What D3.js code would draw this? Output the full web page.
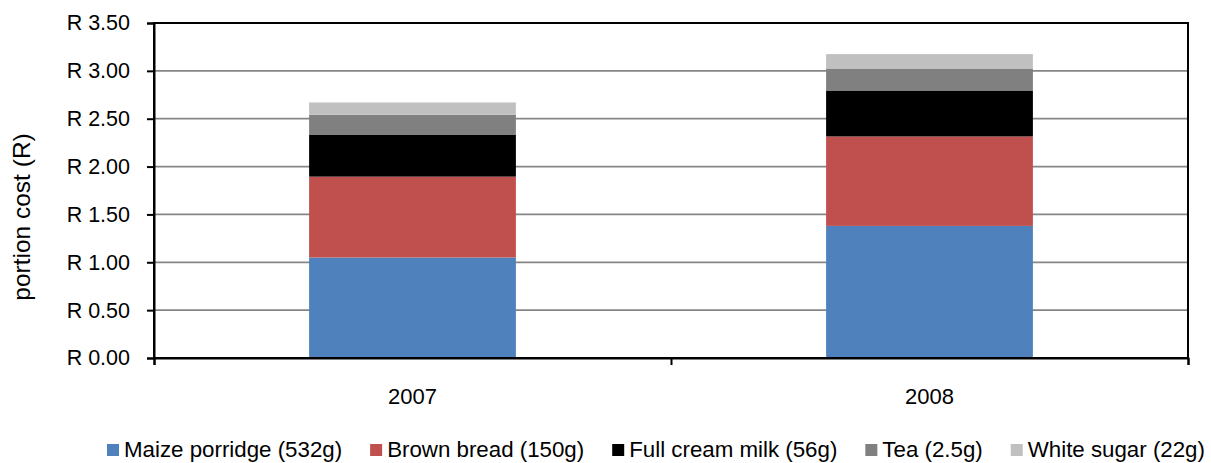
<!DOCTYPE html>
<html>
<head>
<meta charset="utf-8">
<script src="https://cdn.jsdelivr.net/npm/d3@7"></script>
<style>
  body { margin: 0; background: #fff; }
  text { font-family: "Liberation Sans", Arial, sans-serif; fill: #000; }
</style>
</head>
<body>
<div id="chart"></div>
<script>
// values
const years = ["2007", "2008"];
const items = ["Maize porridge (532g)", "Brown bread (150g)", "Full cream milk (56g)", "Tea (2.5g)", "White sugar (22g)"];
const maize = [1.05, 1.38];
const bread = [0.845, 0.935];
const milk = [0.435, 0.48];
const tea = [0.21, 0.23];
const sugar = [0.13, 0.15];
const colours = ["#4f81bd", "#c0504d", "#000000", "#808080", "#c0c0c0"];
const yTicks = [0, 0.5, 1, 1.5, 2, 2.5, 3, 3.5];

const width = 1211, height = 463;
const plotLeft = 154, plotRight = 1188, plotTop = 23, plotBottom = 358;

const svg = d3.select("#chart").append("svg")
  .attr("width", width)
  .attr("height", height);

const y = d3.scaleLinear().domain([0, 3.5]).range([plotBottom, plotTop]);
const x = d3.scaleBand().domain(years).range([plotLeft, plotRight])
  .paddingInner(0.6).paddingOuter(0.3);
const xEdge = d3.scaleLinear().domain([0, years.length]).range([plotLeft, plotRight]);

// gridlines
svg.append("g").selectAll("line")
  .data(yTicks.filter(d => d > 0 && d < 3.5))
  .enter().append("line")
  .attr("x1", plotLeft).attr("x2", plotRight)
  .attr("y1", d => y(d)).attr("y2", d => y(d))
  .attr("stroke", "#868686")
  .attr("stroke-width", 1.7);

// stacked bars
const rows = years.map((yr, i) => ({
  year: yr,
  s0: maize[i], s1: bread[i], s2: milk[i], s3: tea[i], s4: sugar[i]
}));
const stack = d3.stack().keys(["s0", "s1", "s2", "s3", "s4"]);
const series = stack(rows);

svg.append("g").selectAll("g")
  .data(series)
  .enter().append("g")
  .attr("fill", (d, i) => colours[i])
  .selectAll("rect")
  .data(d => d)
  .enter().append("rect")
  .attr("x", d => x(d.data.year))
  .attr("width", x.bandwidth())
  .attr("y", d => y(d[1]))
  .attr("height", d => y(d[0]) - y(d[1]));

// frame
svg.append("rect")
  .attr("x", plotLeft).attr("y", plotTop)
  .attr("width", plotRight - plotLeft).attr("height", plotBottom - plotTop)
  .attr("fill", "none")
  .attr("stroke", "#000")
  .attr("stroke-width", 2);

// y axis
const yAxis = svg.append("g")
  .attr("transform", "translate(" + plotLeft + ",0)")
  .call(d3.axisLeft(y).tickValues(yTicks)
    .tickFormat(d => "R " + d.toFixed(2))
    .tickSize(7).tickPadding(17));
yAxis.select(".domain").attr("stroke-width", 2);
yAxis.selectAll(".tick line").attr("stroke-width", 2);
yAxis.selectAll("text")
  .style("font-size", "21.5px")
  .style("font-family", "'Liberation Sans', Arial, sans-serif")
  .attr("fill", "#000");

// x axis: ticks on category edges, labels centred
const xAxis = svg.append("g")
  .attr("transform", "translate(0," + plotBottom + ")")
  .call(d3.axisBottom(xEdge).tickValues(d3.range(years.length + 1))
    .tickFormat("").tickSize(7));
xAxis.select(".domain").attr("stroke-width", 2);
xAxis.selectAll(".tick line").attr("stroke-width", 2);

svg.append("g").selectAll("text")
  .data(years)
  .enter().append("text")
  .attr("x", d => x(d) + x.bandwidth() / 2)
  .attr("y", 404)
  .attr("text-anchor", "middle")
  .style("font-size", "22px")
  .text(d => d);

// y title
svg.append("text")
  .attr("transform", "translate(30,217) rotate(-90)")
  .attr("text-anchor", "middle")
  .style("font-size", "24.5px")
  .text("portion cost (R)");

// legend
const legend = svg.append("g").attr("transform", "translate(107,444)");
let lx = 0;
items.forEach((name, i) => {
  const g = legend.append("g").attr("transform", "translate(" + lx + ",0)");
  g.append("rect").attr("width", 12).attr("height", 12).attr("fill", colours[i]);
  const t = g.append("text")
    .attr("x", 17).attr("y", 12.5)
    .style("font-size", "22.3px")
    .text(name);
  lx += 17 + t.node().getComputedTextLength() + 28;
});
</script>
</body>
</html>
